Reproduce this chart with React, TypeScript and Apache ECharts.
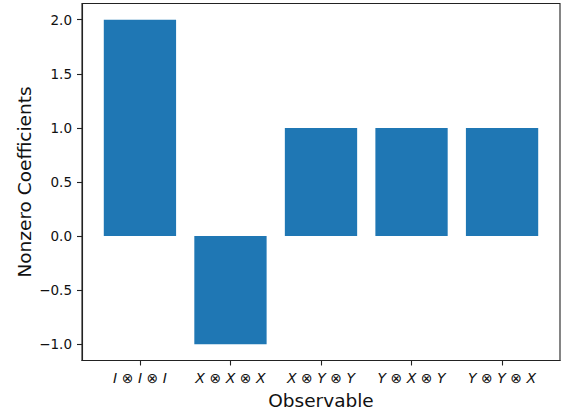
import React, { useEffect, useRef } from 'react';
import * as echarts from 'echarts';

const categories = ['I⊗I⊗I', 'X⊗X⊗X', 'X⊗Y⊗Y', 'Y⊗X⊗Y', 'Y⊗Y⊗X'];
const values = [2, -1, 1, 1, 1];
const yTicks = [-1, -0.5, 0, 0.5, 1, 1.5, 2];
const xTicks = [0, 1, 2, 3, 4];

const FONT = "'DejaVu Sans', sans-serif";

function labelRich(s: string): string {
  return s
    .split('⊗')
    .map((p) => `{i|${p}}`)
    .join('{o|⊗}');
}

export default function App() {
  const ref = useRef<HTMLDivElement>(null);
  useEffect(() => {
    document.body.style.margin = '0';
    const chart = echarts.init(ref.current!, undefined, { renderer: 'svg' });
    chart.setOption({
      animation: false,
      backgroundColor: '#fff',
      grid: {
        left: 82,
        right: 8,
        top: 3.5,
        bottom: 55.5,
        show: true,
        borderColor: '#222',
        borderWidth: 1.1,
        backgroundColor: 'transparent',
      },
      xAxis: {
        type: 'value',
        min: -0.64,
        max: 4.64,
        name: 'Observable',
        nameLocation: 'middle',
        nameGap: 30,
        nameMoveOverlap: false,
        nameTextStyle: { fontFamily: FONT, fontSize: 18.5, color: '#111' },
        axisLine: { show: true, onZero: false, lineStyle: { color: '#222', width: 1.1 } },
        axisTick: { show: true, customValues: xTicks, length: 5, lineStyle: { color: '#222', width: 1.1 } },
        axisLabel: {
          customValues: xTicks,
          margin: 10,
          formatter: (v: number) => labelRich(categories[Math.round(v)] ?? ''),
          rich: {
            i: { fontFamily: FONT, fontStyle: 'italic', fontSize: 14, color: '#111' },
            o: { fontFamily: FONT, fontSize: 14, color: '#111', padding: [0, 4.5] },
          },
        },
        splitLine: { show: false },
      },
      yAxis: {
        type: 'value',
        min: -1.15,
        max: 2.15,
        name: 'Nonzero Coefficients',
        nameLocation: 'middle',
        nameGap: 48,
        nameMoveOverlap: false,
        nameTextStyle: { fontFamily: FONT, fontSize: 18.5, color: '#111' },
        axisLine: { show: true, onZero: false, lineStyle: { color: '#222', width: 1.1 } },
        axisTick: { show: true, customValues: yTicks, length: 5, lineStyle: { color: '#222', width: 1.1 } },
        axisLabel: {
          customValues: yTicks,
          margin: 10,
          fontFamily: FONT,
          fontSize: 13.5,
          color: '#111',
          formatter: (v: number) => v.toFixed(1).replace('-', '\u2212'),
        },
        splitLine: { show: false },
      },
      series: [
        {
          type: 'bar',
          data: values.map((v, i) => [xTicks[i], v]),
          barWidth: 72.3,
          itemStyle: { color: '#1f77b4' },
        },
      ],
    });
    return () => chart.dispose();
  }, []);
  return <div ref={ref} style={{ width: 568, height: 416 }} />;
}
